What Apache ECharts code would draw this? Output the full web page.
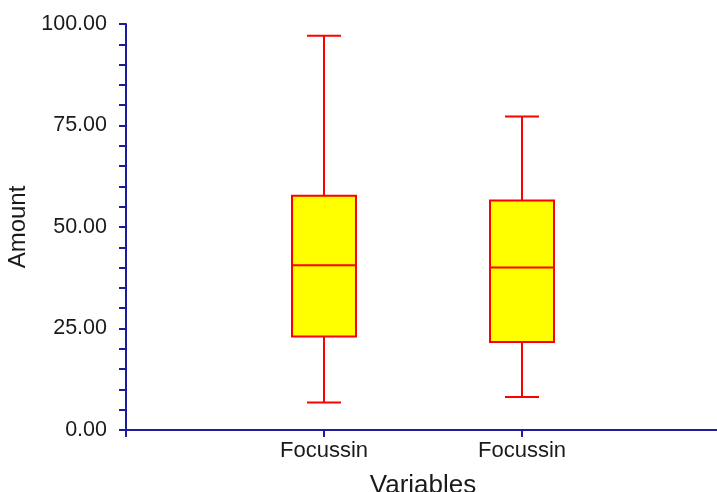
<!DOCTYPE html>
<html>
<head>
<meta charset="utf-8">
<script src="https://cdn.jsdelivr.net/npm/echarts@6/dist/echarts.min.js"></script>
<style>
  html, body { margin: 0; padding: 0; background: #ffffff; }
  #chart { width: 717px; height: 492px; }
</style>
</head>
<body>
<div id="chart"></div>
<script>
// Category slots: empty slots at both ends keep the boxes at 1/3 and 2/3 of the axis
var categories = ['', 'Focussin', 'Focussin', ''];
var boxSlots = [1, 2];

// Five-number summaries per variable
var lows    = [6.8, 8.1];
var q1s     = [23.0, 21.7];
var medians = [40.6, 40.0];
var q3s     = [57.7, 56.5];
var highs   = [97.1, 77.2];

var yTicks = [0, 25, 50, 75, 100];

var boxData = boxSlots.map(function (slot, i) {
  return [slot, lows[i], q1s[i], medians[i], q3s[i], highs[i]];
});

var AXIS_COLOR = '#1c1c9c';
var TEXT_COLOR = '#1a1a1a';
var BOX_W = 64;
var CAP_W = 34;

function renderBox(params, api) {
  var x = api.value(0);
  var pLow = api.coord([x, api.value(1)]);
  var pQ1 = api.coord([x, api.value(2)]);
  var pMed = api.coord([x, api.value(3)]);
  var pQ3 = api.coord([x, api.value(4)]);
  var pHigh = api.coord([x, api.value(5)]);
  var cx = pMed[0];
  var line = { stroke: '#ff0000', lineWidth: 2 };
  return {
    type: 'group',
    children: [
      { type: 'line', shape: { x1: cx, y1: pQ3[1], x2: cx, y2: pHigh[1] }, style: line },
      { type: 'line', shape: { x1: cx, y1: pQ1[1], x2: cx, y2: pLow[1] }, style: line },
      { type: 'line', shape: { x1: cx - CAP_W / 2, y1: pHigh[1], x2: cx + CAP_W / 2, y2: pHigh[1] }, style: line },
      { type: 'line', shape: { x1: cx - CAP_W / 2, y1: pLow[1], x2: cx + CAP_W / 2, y2: pLow[1] }, style: line },
      { type: 'rect', shape: { x: cx - BOX_W / 2, y: pQ3[1], width: BOX_W, height: pQ1[1] - pQ3[1] },
        style: { fill: '#ffff00', stroke: '#ff0000', lineWidth: 2 } },
      { type: 'line', shape: { x1: cx - BOX_W / 2, y1: pMed[1], x2: cx + BOX_W / 2, y2: pMed[1] }, style: line }
    ]
  };
}

var chart = echarts.init(document.getElementById('chart'), null, { renderer: 'canvas' });
chart.setOption({
  animation: false,
  backgroundColor: '#ffffff',
  grid: { left: 126, top: 24, right: -3, bottom: 62, containLabel: false, outerBoundsMode: 'none' },
  xAxis: {
    type: 'category',
    data: categories,
    boundaryGap: false,
    name: 'Variables',
    nameLocation: 'middle',
    nameGap: 43,
    nameTextStyle: { fontFamily: 'Liberation Sans', fontSize: 26, color: TEXT_COLOR },
    axisLine: { lineStyle: { color: AXIS_COLOR, width: 2 } },
    axisTick: { show: true, length: 7, interval: 0, lineStyle: { color: AXIS_COLOR, width: 2 } },
    axisLabel: { interval: 0, margin: 10, fontFamily: 'Liberation Sans', fontSize: 22, color: TEXT_COLOR },
    splitLine: { show: false }
  },
  yAxis: {
    type: 'value',
    min: yTicks[0],
    max: yTicks[yTicks.length - 1],
    interval: 25,
    name: 'Amount',
    nameLocation: 'middle',
    nameGap: 91,
    nameRotate: 90,
    nameTextStyle: { fontFamily: 'Liberation Sans', fontSize: 24, color: TEXT_COLOR },
    axisLine: { show: true, lineStyle: { color: AXIS_COLOR, width: 2 } },
    axisTick: { show: true, length: 7, lineStyle: { color: AXIS_COLOR, width: 2 } },
    minorTick: { show: true, splitNumber: 5, length: 7, lineStyle: { color: AXIS_COLOR, width: 2 } },
    axisLabel: {
      margin: 19,
      fontFamily: 'Liberation Sans',
      fontSize: 21.5,
      color: TEXT_COLOR,
      formatter: function (v) { return v.toFixed(2); }
    },
    splitLine: { show: false }
  },
  series: [{
    type: 'custom',
    renderItem: renderBox,
    clip: false,
    encode: { x: 0, y: [1, 2, 3, 4, 5] },
    data: boxData
  }]
});
</script>
</body>
</html>
